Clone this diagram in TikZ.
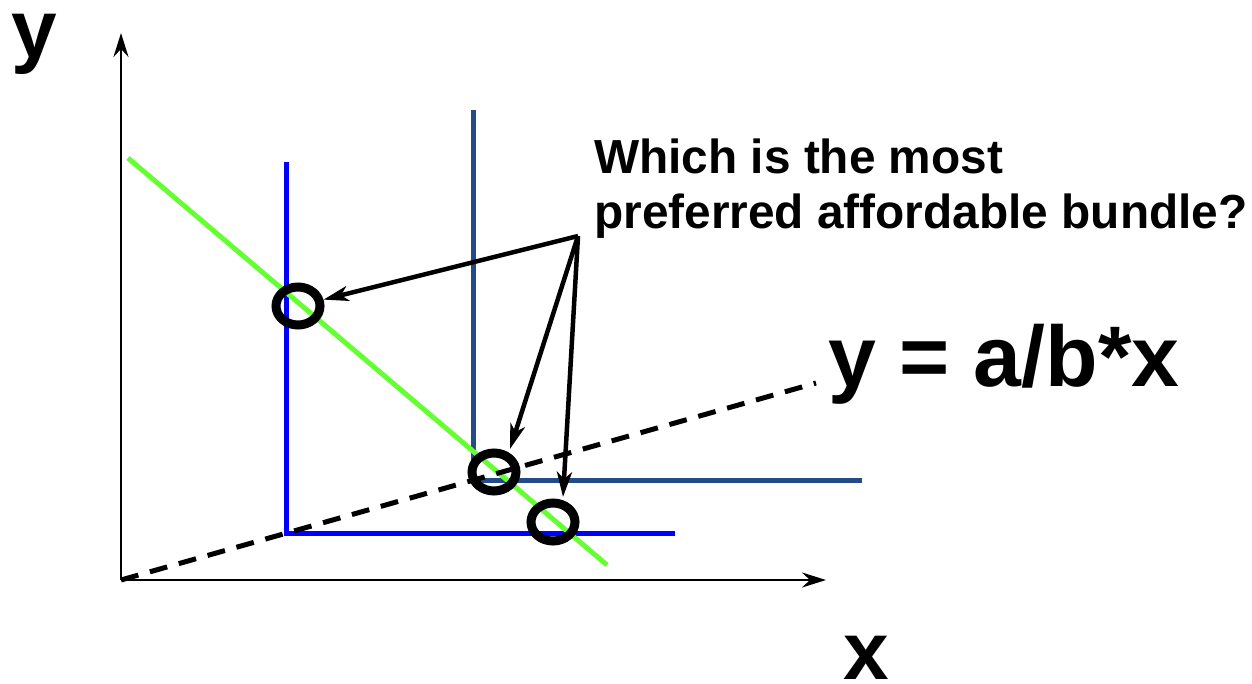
\documentclass[tikz,border=0pt]{standalone}
\usepackage{fontspec}
\setmainfont{Liberation Sans}
\usetikzlibrary{arrows.meta,shapes.geometric}
\definecolor{lgreen}{RGB}{102,255,51}
\definecolor{pblue}{RGB}{0,0,255}
\definecolor{dblue}{RGB}{35,75,135}
\tikzset{
  axis/.style={line width=2.6pt,-{Stealth[length=24pt,width=15pt,inset=8pt]}},
  indiff/.style={line width=5pt},
  budget/.style={line width=5pt,draw=lgreen},
  ray/.style={line width=5pt,dash pattern=on 18pt off 12pt},
  ring/.style={ellipse,draw=black,line width=9pt,minimum width=44pt,minimum height=38pt,inner sep=0pt},
  callout/.style={line width=4.5pt,-{Stealth[length=25pt,width=15pt,inset=7pt]}},
  lbl/.style={inner sep=0pt,anchor=base west,font=\bfseries\fontsize{82}{96}\selectfont},
  eqlbl/.style={inner sep=0pt,anchor=base west,font=\bfseries\fontsize{86}{100}\selectfont},
  qlbl/.style={inner sep=0pt,anchor=base west,font=\bfseries\fontsize{47.8}{56}\selectfont},
}
\begin{document}
\begin{tikzpicture}[x=1pt,y=-1pt]
\useasboundingbox (0,0) rectangle (1252,683);
% axes
\coordinate (O) at (121,580);
\coordinate (ytip) at (121,33);
\coordinate (xtip) at (826,580);
\draw[axis] (O) -- (ytip);
\draw[axis] (O) -- (xtip);
\node[lbl,text height=0.53em] (ylab) at (11,57) {y};
\node[lbl,text depth=0pt] (xlab) at (843,679) {x};
% indifference curves
\coordinate (b1) at (286,162);
\coordinate (b2) at (286,533);
\coordinate (b3) at (675,533);
\draw[indiff,draw=pblue] (b1) -- (b2) -- (b3);
\coordinate (d1) at (473,110);
\coordinate (d2) at (473,480);
\coordinate (d3) at (862,480);
\draw[indiff,draw=dblue] (d1) -- (d2) -- (d3);
% budget line
\coordinate (g1) at (128,158);
\coordinate (g2) at (607,565);
\draw[budget] (g1) -- (g2);
% ray
\coordinate (r2) at (816,383);
\draw[ray] (O) -- (r2);
\node[eqlbl] (eq) at (828,386) {y = a/b*x};
% rings
\node[ring] (c1) at (298,306) {};
\node[ring] (c2) at (494,472) {};
\node[ring] (c3) at (553,522) {};
% question
\node[qlbl] (q1) at (594,173) {Which is the most};
\node[qlbl] (q2) at (594,228) {preferred affordable bundle?};
\coordinate (src) at (578,236);
\coordinate (t2) at (510,449);
\coordinate (t3) at (563,497);
\draw[callout] (src) -- (c1);
\draw[callout] (src) -- (t2);
\draw[callout] (src) -- (t3);
\end{tikzpicture}
\end{document}
